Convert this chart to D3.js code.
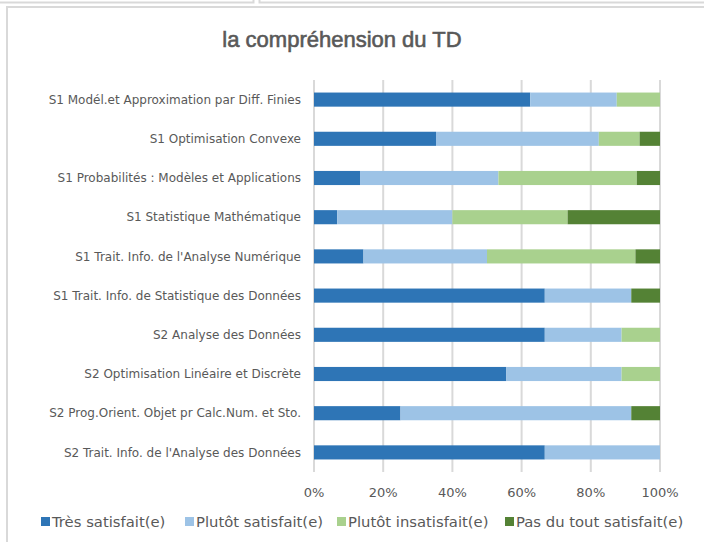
<!DOCTYPE html>
<html>
<head>
<meta charset="utf-8">
<script src="https://cdn.jsdelivr.net/npm/d3@7"></script>
<style>
  body { margin: 0; background: #fff; }
  text { font-family: "DejaVu Sans", "Liberation Sans", sans-serif; fill: #595959; }
</style>
</head>
<body>
<svg id="chart" width="704" height="542"></svg>
<script>
// categories (top to bottom)
const courses = [
  "S1 Modél.et Approximation par Diff. Finies",
  "S1 Optimisation Convexe",
  "S1 Probabilités : Modèles et Applications",
  "S1 Statistique Mathématique",
  "S1 Trait. Info. de l'Analyse Numérique",
  "S1 Trait. Info. de Statistique des Données",
  "S2 Analyse des Données",
  "S2 Optimisation Linéaire et Discrète",
  "S2 Prog.Orient. Objet pr Calc.Num. et Sto.",
  "S2 Trait. Info. de l'Analyse des Données"
];
const seriesNames = ["Très satisfait(e)", "Plutôt satisfait(e)", "Plutôt insatisfait(e)", "Pas du tout satisfait(e)"];
// shares in %, one value per course
const tresSatisfait   = [62.5, 35.3, 13.3,  6.7, 14.3, 66.7, 66.7, 55.6, 25.0, 66.7];
const plutotSatisfait = [25.0, 47.1, 40.0, 33.3, 35.7, 25.0, 22.2, 33.3, 66.7, 33.3];
const plutotInsatisf  = [12.5, 11.8, 40.0, 33.3, 42.9,  0.0, 11.1, 11.1,  0.0,  0.0];
const pasDuTout       = [ 0.0,  5.9,  6.7, 26.7,  7.1,  8.3,  0.0,  0.0,  8.3,  0.0];
const xTicks = [0, 20, 40, 60, 80, 100];
const colors = ["#2e75b6", "#9dc3e6", "#a9d18e", "#548235"];

const svg = d3.select("#chart");

// frame pieces
svg.append("path").attr("d", "M0,2.5H253.5V0 M259.5,0V2.5H704")
  .attr("fill", "none").attr("stroke", "#d9d9d9").attr("stroke-width", 2);
svg.append("path").attr("d", "M7,542V7H704")
  .attr("fill", "none").attr("stroke", "#d9d9d9").attr("stroke-width", 2);

svg.append("text").attr("x", 342).attr("y", 47).attr("text-anchor", "middle")
  .style("font-size", "22px").style("fill", "#595959")
  .style("stroke", "#595959").style("stroke-width", 0.6)
  .style("font-family", "Liberation Sans Narrow, Liberation Sans, sans-serif")
  .text("la compréhension du TD");

const margin = {top: 80, left: 314, right: 44, bottom: 70};
const width = 704 - margin.left - margin.right,
      height = 542 - margin.top - margin.bottom;

const rows = courses.map((c, i) => ({
  course: c,
  [seriesNames[0]]: tresSatisfait[i],
  [seriesNames[1]]: plutotSatisfait[i],
  [seriesNames[2]]: plutotInsatisf[i],
  [seriesNames[3]]: pasDuTout[i]
}));
const stacked = d3.stack().keys(seriesNames).offset(d3.stackOffsetExpand)(rows);

const x = d3.scaleLinear().domain([0, 1]).range([0, width]);
const y = d3.scaleBand().domain(courses).range([0, height]).paddingInner(0.64).paddingOuter(0.32);

const g = svg.append("g").attr("transform", "translate(" + margin.left + "," + margin.top + ")");

g.append("g").selectAll("line").data(xTicks).enter().append("line")
  .attr("x1", d => x(d / 100)).attr("x2", d => x(d / 100))
  .attr("y1", 0).attr("y2", height)
  .attr("stroke", "#d9d9d9").attr("stroke-width", 2);

g.selectAll(".series").data(stacked).enter().append("g")
  .attr("fill", (d, i) => colors[i])
  .selectAll("rect").data(d => d).enter().append("rect")
    .attr("x", d => x(d[0]))
    .attr("y", d => y(d.data.course))
    .attr("width", d => x(d[1]) - x(d[0]))
    .attr("height", y.bandwidth());

// category labels
g.selectAll(".cat").data(courses).enter().append("text")
  .attr("x", -13).attr("y", d => y(d) + y.bandwidth() / 2)
  .attr("dy", "0.35em").attr("text-anchor", "end")
  .style("font-size", "12px")
  .text(d => d);

// x axis labels
g.selectAll(".tick").data(xTicks).enter().append("text")
  .attr("x", d => x(d / 100)).attr("y", height + 25)
  .attr("text-anchor", "middle").style("font-size", "13px")
  .text(d => d + "%");

// legend
const legendX = [41, 185, 337, 505];
const lg = svg.selectAll(".legend").data(seriesNames).enter().append("g")
  .attr("transform", (d, i) => "translate(" + legendX[i] + ",517)");
lg.append("rect").attr("width", 9).attr("height", 9).attr("fill", (d, i) => colors[i]);
lg.append("text").attr("x", 11).attr("y", 5).attr("dy", "0.35em")
  .style("font-size", "14.8px").text(d => d);
</script>
</body>
</html>
